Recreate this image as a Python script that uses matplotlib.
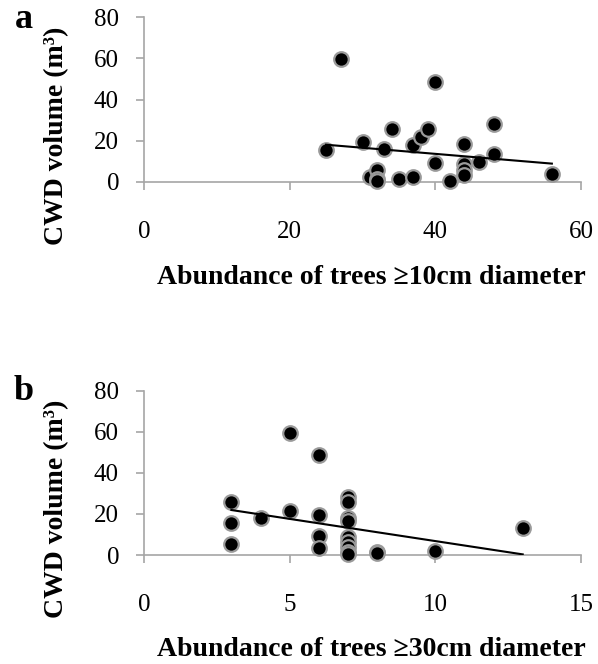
import matplotlib
matplotlib.use("Agg")
import matplotlib.pyplot as plt

plt.rcParams['font.family'] = ['Liberation Serif', 'DejaVu Serif']

# Panel a data: abundance of trees >=10cm vs CWD volume
a_x = [25, 27, 30, 31, 32, 32, 32, 33, 34, 35, 37, 37, 38, 39, 40, 40, 42, 44, 44, 44, 44, 46, 48, 48, 56]
a_y = [15.6, 59.6, 19.5, 2.3, 5.7, 1.2, 0.5, 15.9, 25.8, 1.5, 2.1, 17.7, 21.7, 25.7, 48.7, 8.9, 0.5,
       18.2, 8.5, 5.7, 3.5, 9.4, 27.9, 13.3, 3.9]
a_trend_x = [25, 56]
a_trend_y = [18.0, 8.8]

# Panel b data: abundance of trees >=30cm vs CWD volume
b_x = [3, 3, 3, 4, 5, 5, 6, 6, 6, 6, 7, 7, 7, 7, 7, 7, 7, 7, 7, 8, 8, 10, 13]
b_y = [25.6, 15.4, 5.4, 18.2, 59.6, 21.6, 48.7, 19.5, 9.4, 3.2, 28.2, 25.7, 18.1, 16.4, 8.7, 6.2,
       4.0, 1.6, 0.4, 1.6, 1.1, 1.9, 13.3]
b_trend_x = [3, 13]
b_trend_y = [21.9, 0.3]

y_ticks = [0, 20, 40, 60, 80]
a_xticks = [0, 20, 40, 60]
b_xticks = [0, 5, 10, 15]

W, H = 598, 664
fig = plt.figure(figsize=(W / 100, H / 100), dpi=100)

axis_col = '#a6a6a6'

def make_panel(rect, xs, ys, tx, ty, xticks, xlim, letter, xlabel, letter_pos, ylabel_y, xlabel_y):
    ax = fig.add_axes(rect)
    ax.scatter(xs, ys, s=110, c='black', edgecolors='#9a9a9a', linewidths=1.6, zorder=3, clip_on=False)
    ax.plot(tx, ty, color='black', lw=1.5, zorder=4)
    ax.set_xlim(xlim)
    ax.set_ylim(0, 80)
    ax.set_xticks(xticks)
    ax.set_yticks(y_ticks)
    for s in ['top', 'right']:
        ax.spines[s].set_visible(False)
    for s in ['left', 'bottom']:
        ax.spines[s].set_color(axis_col)
        ax.spines[s].set_linewidth(1.2)
    ax.tick_params(axis='both', colors=axis_col, length=6, width=1.2, labelcolor='black', labelsize=18)
    ax.tick_params(axis='x', pad=22)
    ax.tick_params(axis='y', pad=12)
    fig.text(letter_pos[0] / W, 1 - letter_pos[1] / H, letter, fontsize=26, fontweight='bold',
             ha='center', va='center')
    fig.text(57 / W, 1 - ylabel_y / H, 'CWD volume (m\u00b3)', fontsize=20, fontweight='bold',
             rotation=90, ha='center', va='center')
    fig.text(371 / W, 1 - xlabel_y / H, xlabel, fontsize=20, fontweight='bold', ha='center', va='center')
    return ax

make_panel([144 / W, 1 - 181.7 / H, 437 / W, 164.4 / H], a_x, a_y, a_trend_x, a_trend_y,
           a_xticks, (0, 60), 'a', 'Abundance of trees \u226510cm diameter', (24, 20), 136, 278)
make_panel([144 / W, 1 - 555 / H, 437 / W, 164.3 / H], b_x, b_y, b_trend_x, b_trend_y,
           b_xticks, (0, 15), 'b', 'Abundance of trees \u226530cm diameter', (24, 391), 509, 650)

fig.savefig('out.png', dpi=100)
